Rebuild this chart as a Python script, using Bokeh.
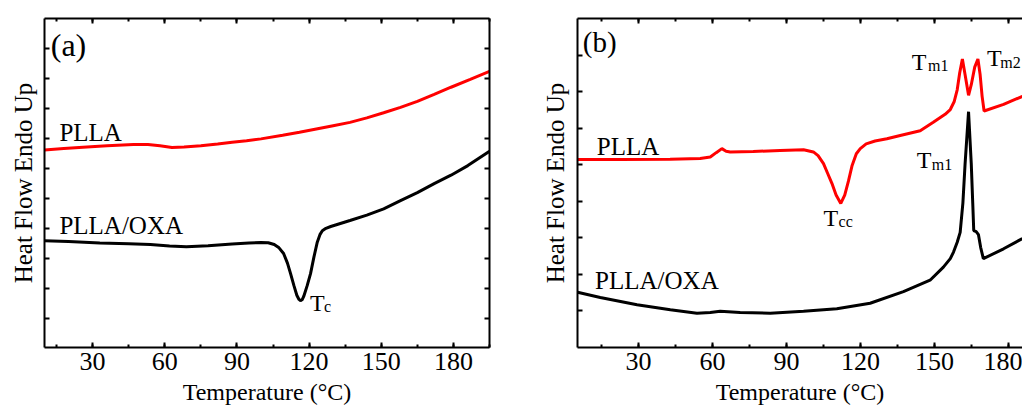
from bokeh.plotting import figure
from bokeh.models import (Range1d, LinearAxis, SingleIntervalTicker, FixedTicker,
                          Label)
from bokeh.layouts import row
from bokeh.embed import file_html
from bokeh.resources import INLINE

FONT = "Liberation Serif"
RED = "#ff0000"
BLACK = "#000000"

# ---------------- Panel (a) data ----------------
a_plla_T = [10, 18, 26, 36, 47, 53, 58, 63, 68, 75, 82, 88, 94, 100, 109, 116,
            123, 130, 137, 144, 151, 158, 165, 172, 179, 187, 195]
a_plla_hf = [6.62, 6.67, 6.71, 6.76, 6.80, 6.80, 6.76, 6.70, 6.72, 6.76, 6.82,
             6.88, 6.93, 6.99, 7.11, 7.21, 7.32, 7.43, 7.54, 7.69, 7.86, 8.04,
             8.24, 8.47, 8.71, 8.97, 9.24]

a_oxa_T = [10, 20, 33, 45, 54, 62, 69, 78, 88, 95, 100, 103, 105.5, 107.5, 109.4,
           111, 112.3, 113.7, 114.9, 115.8, 116.4, 117.1, 117.8, 119.2, 120.6,
           122.0, 123.4, 124.5, 125.5, 127, 129, 133, 137, 144, 151, 158, 165,
           172, 179, 186, 195]
a_oxa_hf = [3.60, 3.57, 3.52, 3.50, 3.47, 3.42, 3.40, 3.43, 3.49, 3.52, 3.54,
            3.53, 3.47, 3.36, 3.17, 2.85, 2.50, 2.10, 1.78, 1.64, 1.60, 1.63,
            1.75, 2.10, 2.50, 3.05, 3.55, 3.80, 3.93, 4.01, 4.07, 4.17, 4.27,
            4.45, 4.66, 4.93, 5.20, 5.50, 5.78, 6.10, 6.58]

# ---------------- Panel (b) data ----------------
b_plla_T = [5.3, 22.6, 42.8, 55, 59.1, 61.5, 63.8, 65.5, 67.2, 76.5, 87.4, 96.9,
            100.9, 102.8, 105, 106.7, 108.4, 110.1, 112, 113.6, 115.1, 116.6,
            118.3, 119.9, 122.3, 125.9, 130.7, 136.1, 144.2, 149.5, 154.3, 156.4,
            158, 159.2, 160.2, 161.3, 162.4, 163.8, 164.9, 166.3, 167.6, 168.5,
            169.3, 170.1, 178, 185.6]
b_plla_hf = [5.14, 5.14, 5.15, 5.17, 5.21, 5.33, 5.44, 5.37, 5.35, 5.36, 5.39,
             5.41, 5.35, 5.25, 5.03, 4.76, 4.49, 4.17, 3.94, 4.17, 4.55, 4.98,
             5.30, 5.44, 5.57, 5.65, 5.71, 5.80, 5.93, 6.16, 6.38, 6.51, 6.73,
             7.05, 7.51, 7.89, 7.46, 6.90, 7.19, 7.67, 7.89, 7.46, 6.87, 6.47,
             6.65, 6.87]

b_oxa_T = [5.3, 14.5, 29.4, 42.9, 53.7, 59.1, 63.1, 71.2, 83.4, 96.9, 110.4,
           123.9, 137.4, 148.2, 153.6, 156.4, 157.7, 159.2, 160.4, 161.5, 162.4,
           163.8, 164.9, 165.5, 165.9, 166.9, 167.8, 168.7, 169.8, 178, 185.6]
b_oxa_hf = [1.51, 1.37, 1.17, 1.03, 0.94, 0.96, 0.99, 0.96, 0.94, 0.99, 1.06,
            1.21, 1.53, 1.84, 2.20, 2.43, 2.61, 2.88, 3.15, 3.95, 5.03, 6.45,
            5.03, 3.95, 3.20, 3.17, 3.09, 2.74, 2.43, 2.70, 2.98]

x_label = "Temperature (°C)"
y_label = "Heat Flow Endo Up"


def style_axis(ax, minor=True):
    ax.axis_line_width = 2
    ax.axis_line_color = BLACK
    ax.major_tick_in = 5
    ax.major_tick_out = 0
    ax.major_tick_line_width = 2
    ax.major_tick_line_color = BLACK
    if minor:
        ax.minor_tick_in = 3
        ax.minor_tick_out = 0
        ax.minor_tick_line_width = 2
        ax.minor_tick_line_color = BLACK
    else:
        ax.minor_tick_line_color = None


def hide_labels(ax):
    ax.major_label_text_color = None
    ax.major_label_text_font_size = "0px"
    ax.major_label_standoff = 0


def make_panel(xr, yr, yticks, borders, ylab_standoff, right_axis):
    p = figure(width=511, height=412, output_backend="svg", toolbar_location=None,
               x_range=Range1d(*xr), y_range=Range1d(*yr),
               min_border_left=borders[0], min_border_right=borders[1],
               min_border_top=borders[2], min_border_bottom=borders[3])
    p.grid.visible = False
    p.outline_line_color = None
    p.background_fill_color = "white"
    p.border_fill_color = "white"

    xt = SingleIntervalTicker(interval=30, num_minor_ticks=2)
    yt = FixedTicker(ticks=yticks)

    xa = p.xaxis[0]
    xa.ticker = xt
    style_axis(xa)
    xa.major_label_text_font = FONT
    xa.major_label_text_font_size = "26px"
    xa.major_label_text_color = BLACK
    xa.major_label_standoff = 5
    xa.axis_label = x_label
    xa.axis_label_text_font = FONT
    xa.axis_label_text_font_size = "24px"
    xa.axis_label_text_font_style = "normal"
    xa.axis_label_text_color = BLACK
    xa.axis_label_standoff = 6

    ya = p.yaxis[0]
    ya.ticker = yt
    style_axis(ya, minor=False)
    hide_labels(ya)
    ya.axis_label = y_label
    ya.axis_label_text_font = FONT
    ya.axis_label_text_font_size = "25px"
    ya.axis_label_text_font_style = "normal"
    ya.axis_label_text_color = BLACK
    ya.axis_label_standoff = ylab_standoff

    top = LinearAxis(ticker=SingleIntervalTicker(interval=30, num_minor_ticks=2))
    style_axis(top)
    hide_labels(top)
    p.add_layout(top, "above")

    if right_axis:
        ra = LinearAxis(ticker=FixedTicker(ticks=yticks))
        style_axis(ra, minor=False)
        hide_labels(ra)
        p.add_layout(ra, "right")
    return p


def add_text(p, x, y, text, size):
    p.add_layout(Label(x=x, y=y, text=text, text_font=FONT, text_font_size=size,
                       text_color=BLACK, text_baseline="alphabetic", text_align="left"))


# ---------------- Panel (a) ----------------
pa = make_panel((10, 195), (0.04, 11.0), list(range(1, 11)), (44, 22, 18, 65), 8, True)
pa.line(a_plla_T, a_plla_hf, line_color=RED, line_width=3)
pa.line(a_oxa_T, a_oxa_hf, line_color=BLACK, line_width=3)
add_text(pa, 12.6, 10.12, "(a)", "32px")
add_text(pa, 16.2, 7.2, "PLLA", "25px")
add_text(pa, 16.2, 4.1, "PLLA/OXA", "25px")
add_text(pa, 120.4, 1.53, "T", "24px")
add_text(pa, 126.2, 1.40, "c", "16px")

# ---------------- Panel (b) ----------------
pb = make_panel((5.27, 185.67), (0.0, 9.0), list(range(1, 9)), (66, 0, 13, 65), 9, False)
pb.line(b_plla_T, b_plla_hf, line_color=RED, line_width=3)
pb.line(b_oxa_T, b_oxa_hf, line_color=BLACK, line_width=3)
add_text(pb, 7.4, 8.37, "(b)", "29px")
add_text(pb, 13.1, 5.5, "PLLA", "25px")
add_text(pb, 12.4, 1.82, "PLLA/OXA", "25px")
add_text(pb, 140.8, 7.82, "T", "24px")
add_text(pb, 147.4, 7.71, "m1", "16px")
add_text(pb, 171.3, 7.92, "T", "24px")
add_text(pb, 176.7, 7.81, "m2", "16px")
add_text(pb, 142.8, 5.12, "T", "24px")
add_text(pb, 148.9, 5.01, "m1", "16px")
add_text(pb, 105.0, 3.55, "T", "24px")
add_text(pb, 111.1, 3.44, "cc", "16px")

layout = row(pa, pb)
open("out.html", "w").write(file_html(layout, INLINE))
